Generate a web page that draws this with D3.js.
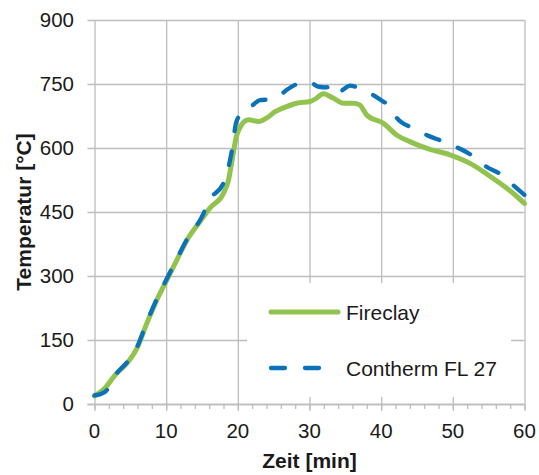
<!DOCTYPE html>
<html>
<head>
<meta charset="utf-8">
<script src="https://cdn.jsdelivr.net/npm/d3@7"></script>
<style>
  html, body { margin: 0; padding: 0; background: #fff; }
  svg { display: block; font-family: Arial, "Liberation Sans", sans-serif; }
</style>
</head>
<body>
<svg id="chart" width="539" height="475"></svg>
<script>
// Furnace temperature over time for two lining materials
const fireclayTime = [0, 1.2, 3.1, 4.5, 5.9, 7.3, 8.7, 10.1, 11.5, 12.9, 14.7, 16.1, 18.0, 18.7, 19.2, 19.8, 20.5, 21.5, 22.9, 24.0, 25.2, 26.8, 28.2, 30.1, 31.0, 31.9, 33.3, 34.7, 36.1, 37.0, 38.0, 40.3, 42.2, 44.0, 46.4, 49.6, 52.4, 55.6, 58.4, 60];
const fireclayTemp = [19, 33, 72, 95, 130, 189, 244, 291, 338, 384, 427, 459, 494, 525, 572, 627, 654, 666, 662, 670, 685, 697, 705, 709, 717, 727, 717, 705, 705, 701, 677, 658, 630, 615, 599, 584, 564, 529, 494, 470];

const conthermTime = [0, 1.5, 3.1, 4.5, 5.9, 7.3, 8.7, 10.1, 11.5, 12.9, 14.7, 16.4, 17.7, 18.3, 19.1, 19.8, 20.5, 21.7, 23.1, 24.5, 25.4, 26.8, 28.0, 29.4, 30.1, 31.2, 32.3, 33.3, 34.0, 34.8, 35.6, 37.0, 38.9, 40.0, 41.2, 42.2, 44.5, 46.4, 48.7, 50.5, 52.9, 54.7, 56.8, 58.4, 60];
const conthermTemp = [20, 29, 72, 97, 132, 192, 246, 294, 340, 386, 430, 486, 509, 530, 588, 662, 680, 695, 712, 714, 717, 736, 748, 755, 754, 744, 742, 746, 729, 738, 746, 740, 724, 712, 697, 670, 646, 630, 615, 602, 580, 556, 537, 513, 490];

const seriesNames = ["Fireclay", "Contherm FL 27"];
const xTicks = [0, 10, 20, 30, 40, 50, 60];
const xMinorTicks = d3.range(0, 61, 2);
const yTicks = [0, 150, 300, 450, 600, 750, 900];
const xTitle = "Zeit [min]";
const yTitle = "Temperatur [°C]";

const W = 539, H = 475;
const plot = { left: 94.5, right: 524.5, top: 20, bottom: 404 };
const gridColor = "#bdbdbd";
const green = "#92c34f";
const blue = "#0b72b9";

const svg = d3.select("#chart");
const x = d3.scaleLinear().domain([0, 60]).range([plot.left, plot.right]);
const y = d3.scaleLinear().domain([0, 900]).range([plot.bottom, plot.top]);

// Horizontal gridlines, extending a little past the y axis as tick marks
const yGrid = d3.axisLeft(y).tickValues(yTicks)
  .tickSize(-(plot.right - plot.left) - 7).tickFormat("");
svg.append("g")
  .attr("transform", `translate(${plot.right},0)`)
  .call(d3.axisRight(y).tickValues(yTicks).tickSize(-(plot.right - plot.left) - 7).tickFormat(""))
  .call(g => g.select(".domain").remove())
  .call(g => g.selectAll("line").attr("stroke", gridColor).attr("stroke-width", 1.3));

// Vertical gridlines, extending below the x axis as major ticks
svg.append("g")
  .attr("transform", `translate(0,${plot.top})`)
  .call(d3.axisBottom(x).tickValues(xTicks).tickSize(plot.bottom - plot.top + 7).tickFormat(""))
  .call(g => g.select(".domain").remove())
  .call(g => g.selectAll("line").attr("stroke", gridColor).attr("stroke-width", 1.3));

// Minor ticks on the x axis
svg.append("g")
  .attr("transform", `translate(0,${plot.bottom})`)
  .call(d3.axisBottom(x).tickValues(xMinorTicks).tickSize(5).tickFormat(""))
  .call(g => g.select(".domain").attr("stroke", gridColor).attr("stroke-width", 1.3)
    .attr("d", `M${plot.left - 7},0.5H${plot.right}`))
  .call(g => g.selectAll("line").attr("stroke", gridColor).attr("stroke-width", 1.3));

// Tick labels
svg.append("g").selectAll("text").data(yTicks).join("text")
  .attr("x", 74).attr("y", d => y(d) + 7.3)
  .attr("text-anchor", "end").attr("font-size", 20.5).attr("fill", "#1a1a1a")
  .text(d => d);

svg.append("g").selectAll("text").data(xTicks).join("text")
  .attr("x", d => x(d)).attr("y", 438)
  .attr("text-anchor", "middle").attr("font-size", 20.5).attr("fill", "#1a1a1a")
  .text(d => d);

// Axis titles
svg.append("text")
  .attr("x", (plot.left + plot.right) / 2).attr("y", 468)
  .attr("text-anchor", "middle").attr("font-size", 21).attr("font-weight", "bold").attr("fill", "#1a1a1a")
  .text(xTitle);

svg.append("text")
  .attr("transform", `translate(31,${(plot.top + plot.bottom) / 2}) rotate(-90)`)
  .attr("text-anchor", "middle").attr("font-size", 21).attr("font-weight", "bold").attr("fill", "#1a1a1a")
  .text(yTitle);

// Legend box (white background covers the gridlines behind it)
svg.append("rect")
  .attr("x", 247).attr("y", 283).attr("width", 264).attr("height", 114)
  .attr("fill", "#fff");

// Data lines
const line = d3.line().x(d => x(d[0])).y(d => y(d[1])).curve(d3.curveMonotoneX);
const fireclay = d3.zip(fireclayTime, fireclayTemp);
const contherm = d3.zip(conthermTime, conthermTemp);

svg.append("path").datum(fireclay)
  .attr("d", line).attr("fill", "none")
  .attr("stroke", green).attr("stroke-width", 5)
  .attr("stroke-linejoin", "round").attr("stroke-linecap", "round");

svg.append("path").datum(contherm)
  .attr("d", line).attr("fill", "none")
  .attr("stroke", blue).attr("stroke-width", 4.3)
  .attr("stroke-dasharray", "14,20")
  .attr("stroke-linejoin", "round").attr("stroke-linecap", "round");

// Legend entries
const legend = svg.append("g");
legend.append("line")
  .attr("x1", 271).attr("x2", 338).attr("y1", 312).attr("y2", 312)
  .attr("stroke", green).attr("stroke-width", 5).attr("stroke-linecap", "round");
legend.append("text")
  .attr("x", 346).attr("y", 319.5).attr("font-size", 21).attr("fill", "#1a1a1a")
  .text(seriesNames[0]);
legend.append("line")
  .attr("x1", 271).attr("x2", 320).attr("y1", 368).attr("y2", 368)
  .attr("stroke", blue).attr("stroke-width", 4.3).attr("stroke-linecap", "round")
  .attr("stroke-dasharray", "14,20");
legend.append("text")
  .attr("x", 346).attr("y", 375.5).attr("font-size", 21).attr("fill", "#1a1a1a")
  .text(seriesNames[1]);
</script>
</body>
</html>
